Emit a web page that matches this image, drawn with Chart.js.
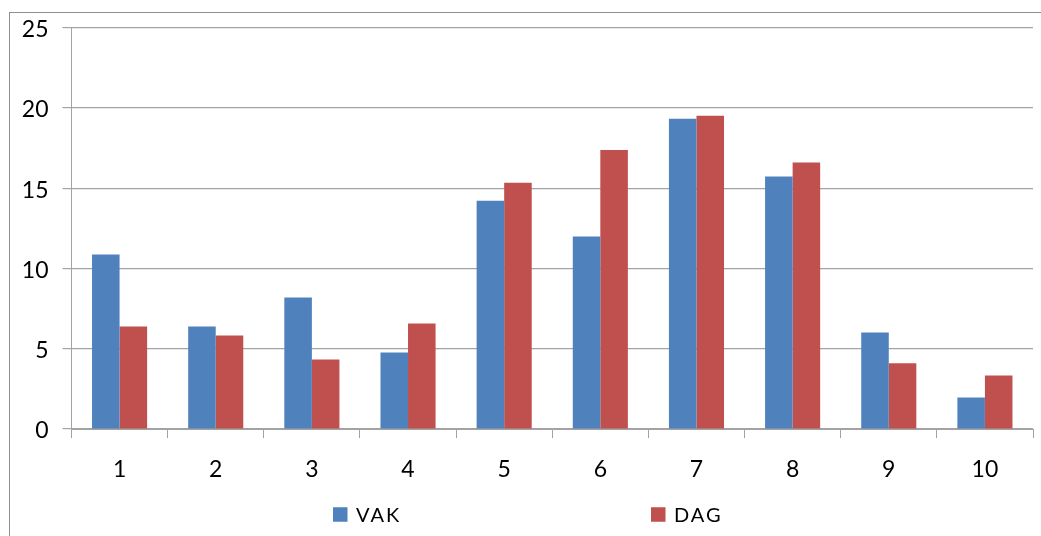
<!DOCTYPE html>
<html>
<head>
<meta charset="utf-8">
<script src="https://cdn.jsdelivr.net/npm/chart.js@4/dist/chart.umd.min.js"></script>
<style>
  html, body { margin: 0; padding: 0; background: #ffffff; }
  #wrap { width: 1041px; height: 536px; }
</style>
</head>
<body>
<div id="wrap"><canvas id="c" width="1041" height="536"></canvas></div>
<script>
// Categories and series
const categories = ['1', '2', '3', '4', '5', '6', '7', '8', '9', '10'];
const vakValues = [10.87, 6.39, 8.19, 4.77, 14.22, 11.99, 19.33, 15.73, 6.02, 1.97];
const dagValues = [6.39, 5.83, 4.33, 6.58, 15.35, 17.39, 19.52, 16.6, 4.09, 3.34];
const seriesNames = ['VAK', 'DAG'];
const yTicks = [0, 5, 10, 15, 20, 25];

const BLUE = '#4F81BD';
const RED = '#C0504D';
const GRID = '#a3a3a3';
const FONT = 'Lato, "Open Sans", sans-serif';

// Thin frame around the whole chart object
const framePlugin = {
  id: 'frame',
  beforeDraw(chart) {
    const ctx = chart.ctx;
    ctx.save();
    ctx.fillStyle = '#ffffff';
    ctx.fillRect(0, 0, chart.width, chart.height);
    ctx.strokeStyle = '#8e8e8e';
    ctx.lineWidth = 1;
    ctx.strokeRect(9.5, 12.5, chart.width + 20, chart.height + 20);
    ctx.restore();
  }
};

// Legend with wide, evenly spaced entries under the plot
const wideLegend = {
  id: 'wideLegend',
  afterDraw(chart, args, opts) {
    const ctx = chart.ctx;
    ctx.save();
    ctx.font = opts.fontSize + 'px ' + FONT;
    ctx.textBaseline = 'middle';
    ctx.textAlign = 'left';
    if ('letterSpacing' in ctx) ctx.letterSpacing = opts.letterSpacing;
    chart.data.datasets.forEach((ds, i) => {
      const x = opts.startX + i * opts.slot;
      const y = opts.centerY;
      ctx.fillStyle = ds.backgroundColor;
      ctx.fillRect(x, y - opts.box / 2, opts.box, opts.box);
      ctx.fillStyle = '#000000';
      ctx.fillText(ds.label, x + opts.box + opts.gap, y + 1);
    });
    ctx.restore();
  }
};

new Chart(document.getElementById('c'), {
  type: 'bar',
  data: {
    labels: categories,
    datasets: [
      { label: seriesNames[0], data: vakValues, backgroundColor: BLUE },
      { label: seriesNames[1], data: dagValues, backgroundColor: RED }
    ]
  },
  options: {
    responsive: false,
    animation: false,
    devicePixelRatio: 1,
    layout: { padding: { top: 27, right: 8, left: 0, bottom: 47 } },
    datasets: {
      bar: { categoryPercentage: 0.573, barPercentage: 1.0, borderWidth: 0 }
    },
    plugins: {
      legend: { display: false },
      tooltip: { enabled: false },
      wideLegend: {
        startX: 333, slot: 318, centerY: 514.5, box: 14.5, gap: 8.5,
        fontSize: 20, letterSpacing: '2px'
      }
    },
    scales: {
      x: {
        offset: true,
        grid: {
          offset: true, drawOnChartArea: false, drawTicks: true,
          tickLength: 9, color: GRID, lineWidth: 1
        },
        border: { display: true, color: GRID, width: 1 },
        ticks: {
          color: '#000000', padding: 18,
          font: { family: FONT, size: 23 }
        },
        afterFit(scale) { scale.height = 60; }
      },
      y: {
        min: 0, max: 25,
        afterBuildTicks(scale) { scale.ticks = yTicks.map(v => ({ value: v })); },
        grid: { color: GRID, lineWidth: 1.2, tickLength: 9, drawTicks: true },
        border: { display: true, color: GRID, width: 1 },
        ticks: {
          color: '#000000', padding: 14, labelOffset: 2,
          font: { family: FONT, size: 23 }
        },
        afterFit(scale) { scale.width = 71.5; }
      }
    }
  },
  plugins: [framePlugin, wideLegend]
});
</script>
</body>
</html>
